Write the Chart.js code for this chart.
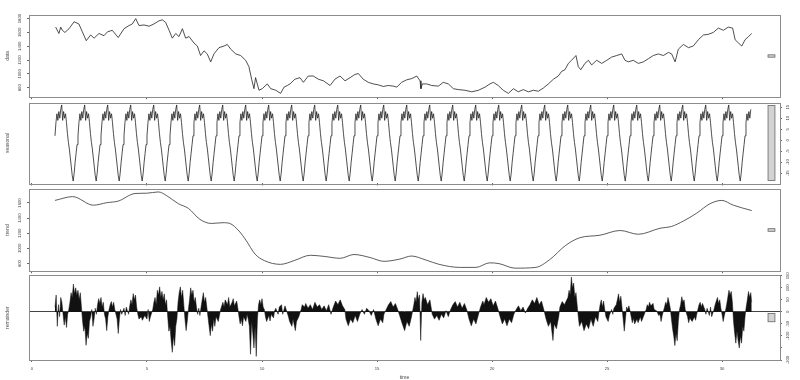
<!DOCTYPE html>
<html>
<head>
<meta charset="utf-8">
<script src="https://cdn.jsdelivr.net/npm/chart.js@4.4.1/dist/chart.umd.min.js"></script>
<style>
    html, body { margin: 0; padding: 0; background: #fff; overflow: hidden; }
    #wrap { position: relative; width: 800px; height: 380px; overflow: hidden; }
    #wrap canvas { position: absolute; left: 0; }
</style>
</head>
<body>
<div id="wrap">
    <canvas id="c-data"></canvas>
    <canvas id="c-seasonal"></canvas>
    <canvas id="c-trend"></canvas>
    <canvas id="c-remainder"></canvas>
</div>
<script>
// observed series (time in years)
const dataTime = [1.03,1.17,1.25,1.32,1.43,1.61,1.83,2.04,2.19,2.36,2.55,2.70,2.91,3.13,3.28,3.49,3.75,4.0,4.22,4.36,4.51,4.65,4.87,5.09,5.30,5.52,5.67,5.81,5.96,6.10,6.25,6.39,6.54,6.68,6.83,7.04,7.19,7.33,7.48,7.62,7.77,7.91,8.13,8.35,8.49,8.64,8.86,9.07,9.29,9.43,9.55,9.65,9.72,9.87,10.01,10.23,10.38,10.60,10.81,10.96,11.10,11.22,11.43,11.65,11.80,12.01,12.23,12.45,12.67,12.96,13.17,13.39,13.61,13.83,14.04,14.19,14.40,14.62,14.84,15.06,15.27,15.49,15.71,15.86,16.07,16.29,16.51,16.73,16.87,16.91,16.97,17.16,17.38,17.67,17.88,18.10,18.32,18.53,18.83,19.12,19.41,19.70,19.91,20.06,20.27,20.49,20.71,20.93,21.14,21.36,21.58,21.80,22.01,22.23,22.45,22.67,22.88,23.03,23.17,23.32,23.46,23.65,23.75,23.86,24.04,24.19,24.33,24.55,24.77,24.99,25.20,25.42,25.64,25.78,25.93,26.14,26.36,26.58,26.80,27.01,27.23,27.45,27.67,27.81,27.96,28.10,28.32,28.54,28.75,28.97,29.19,29.40,29.62,29.84,30.06,30.27,30.46,30.57,30.71,30.86,31.00,31.15,31.29];
const dataValue = [1677,1585,1677,1631,1600,1654,1755,1722,1608,1481,1563,1517,1585,1553,1608,1631,1526,1654,1700,1722,1800,1700,1708,1690,1722,1768,1782,1745,1631,1517,1585,1540,1654,1517,1540,1448,1403,1266,1334,1289,1174,1289,1380,1403,1426,1358,1289,1266,1197,1105,923,786,946,763,786,855,786,763,718,809,832,855,923,946,878,969,969,923,900,832,923,969,900,946,992,1005,923,878,855,841,818,832,823,809,878,914,932,969,900,786,855,855,832,823,878,855,786,773,763,741,763,809,855,878,832,763,718,786,741,773,741,763,749,795,855,923,969,1037,1060,1152,1197,1266,1105,1060,1152,1197,1129,1197,1152,1197,1243,1266,1289,1197,1174,1197,1152,1174,1220,1266,1289,1266,1311,1289,1174,1358,1426,1380,1403,1494,1563,1572,1600,1663,1631,1677,1663,1494,1448,1403,1494,1540,1585];

// one year of the periodic seasonal component, 24 steps per year
const seasonCycle = [2,8,12,9,13,10,14,16,9,13,10,12,8,3,-1,-4,-8,-12,-16,-18.5,-15,-10,-6,-2];
const seasonStart = 1.0;
const seasonEnd = 31.29;

const trendTime = [1.0,1.77,2.67,3.25,3.75,4.48,4.99,5.49,5.86,6.36,6.8,7.3,7.8,8.3,8.6,9.0,9.3,9.7,10.1,10.8,11.4,12.1,12.7,13.4,14.0,14.7,15.3,16.0,16.5,17.1,17.7,18.6,19.3,19.9,20.3,21.0,21.9,22.5,23.2,23.8,24.7,25.57,26.36,27.3,27.81,28.32,28.9,29.48,29.99,30.49,31.29];
const trendValue = [1634,1684,1571,1604,1625,1725,1729,1746,1696,1591,1529,1384,1330,1340,1330,1230,1110,925,840,790,840,910,895,870,920,880,830,860,900,850,790,750,750,810,800,740,750,850,1040,1140,1175,1237,1187,1266,1291,1362,1466,1591,1634,1571,1500];

const remTime = [
    1.00,1.05,1.10,1.15,1.20,1.25,1.30,1.35,1.40,1.45,1.50,1.55,1.60,1.65,1.70,1.75,1.80,1.85,1.90,1.95,2.00,2.05,2.10,2.15,
    2.20,2.25,2.30,2.35,2.40,2.45,2.50,2.55,2.60,2.65,2.70,2.75,2.80,2.85,2.90,2.95,3.00,3.05,3.10,3.15,3.20,3.25,3.30,3.35,
    3.40,3.45,3.50,3.55,3.60,3.65,3.70,3.75,3.80,3.85,3.90,4.00,4.05,4.10,4.15,4.20,4.25,4.30,4.35,4.40,4.45,4.50,4.55,
    4.60,4.65,4.75,4.80,4.90,5.00,5.05,5.10,5.15,5.25,5.30,5.35,5.40,5.45,5.50,5.55,5.60,5.65,5.70,5.75,5.80,5.85,
    5.90,5.95,6.00,6.05,6.10,6.15,6.20,6.25,6.30,6.35,6.40,6.45,6.50,6.55,6.60,6.65,6.70,6.75,6.80,6.85,6.90,6.95,7.00,7.05,7.10,7.15,
    7.20,7.25,7.30,7.35,7.40,7.45,7.50,7.55,7.60,7.65,7.70,7.75,7.80,7.85,7.90,7.95,8.00,8.10,8.20,
    8.30,8.35,8.40,8.50,8.55,8.60,8.70,8.75,8.80,8.90,8.95,9.00,9.05,9.10,9.15,9.20,9.30,9.35,9.40,
    9.45,9.50,9.55,9.60,9.65,9.70,9.75,9.80,9.85,9.90,9.95,10.00,10.05,10.10,10.15,10.20,10.30,10.35,10.40,10.50,10.55,
    10.60,10.70,10.75,10.85,10.90,11.00,11.05,11.15,11.20,11.30,11.35,11.45,11.50,11.60,
    11.70,11.75,11.85,11.90,12.00,12.10,12.20,12.30,12.40,12.50,12.60,12.70,12.80,12.90,13.00,13.10,13.20,13.30,13.40,13.50,13.60,
    13.65,13.75,13.85,13.95,14.05,14.15,14.25,14.35,14.45,14.55,14.65,14.75,14.85,14.95,15.05,15.15,15.25,15.30,
    15.40,15.50,15.60,15.70,15.80,15.90,16.00,16.10,16.20,16.30,16.40,16.50,16.60,16.65,16.70,16.75,16.80,16.85,16.90,16.95,17.00,17.05,17.10,17.20,17.30,
    17.40,17.50,17.60,17.70,17.80,17.90,18.00,18.10,18.20,18.30,18.40,18.50,18.60,18.70,18.80,18.90,19.00,19.10,19.20,19.30,19.40,
    19.50,19.60,19.65,19.75,19.85,19.95,20.05,20.15,20.25,20.35,20.45,20.55,20.65,20.75,20.85,20.95,21.05,21.15,21.25,21.35,21.45,21.55,
    21.65,21.75,21.85,21.95,22.05,22.15,22.25,22.35,22.45,22.55,22.65,22.70,22.80,22.90,22.95,23.05,23.15,23.25,
    23.30,23.35,23.40,23.45,23.50,23.55,23.60,23.65,23.70,23.75,23.80,23.90,24.00,24.10,24.20,24.30,24.40,24.50,24.60,24.65,
    24.70,24.75,24.80,24.85,24.90,24.95,25.05,25.10,25.20,25.25,25.30,25.40,25.45,25.50,25.55,25.60,25.65,25.70,25.75,25.80,
    25.85,25.90,25.95,26.00,26.05,26.10,26.15,26.20,26.30,26.35,26.45,26.50,26.60,26.70,26.75,26.80,26.85,26.90,27.00,27.05,
    27.15,27.25,27.30,27.35,27.40,27.50,27.55,27.60,27.65,27.70,27.75,27.80,27.85,27.90,27.95,28.00,28.05,28.10,
    28.15,28.20,28.25,28.30,28.35,28.40,28.50,28.55,28.60,28.70,28.80,28.85,28.90,28.95,29.00,29.05,29.10,29.15,29.25,
    29.30,29.35,29.45,29.50,29.55,29.65,29.70,29.75,29.80,29.85,29.90,29.95,30.00,30.05,30.10,30.15,
    30.20,30.25,30.30,30.35,30.40,30.45,30.50,30.55,30.60,30.65,30.70,30.75,30.80,30.85,30.90,30.95,31.00,
    31.05,31.10,31.15,31.20,31.25,31.29
];
const remValue = [
    20,70,-60,30,-20,60,40,-10,-55,-20,-65,-10,10,40,80,60,116,75,100,70,90,50,80,20,
    -40,-80,-60,-139,-90,-110,-40,-20,10,-60,-30,15,-10,30,55,35,60,20,40,-10,-30,-78,-20,10,
    30,43,20,40,10,-10,-30,-90,-30,10,-10,15,-15,20,5,-10,25,50,30,76,50,70,20,
    -10,-30,-20,-35,-15,-30,10,-40,-20,10,40,60,30,90,70,104,60,85,50,75,30,50,
    -20,-80,-60,-120,-168,-100,-140,-60,-30,40,80,104,60,90,30,-30,-78,-40,10,50,100,70,90,40,60,20,
    -10,15,-15,20,50,80,40,60,20,-20,-60,-99,-50,-80,-30,-60,-20,-40,10,
    40,20,50,30,60,20,40,55,25,45,15,-20,-50,-30,-58,-20,-40,-10,-30,
    -60,-176,-40,-90,-150,-60,-185,-30,30,50,30,55,20,10,-20,-40,-15,-38,-10,-25,5,
    15,-10,20,30,-10,25,10,-20,-40,-60,-30,-78,-40,-20,
    10,30,20,35,15,30,10,40,20,30,10,25,5,30,-10,20,45,30,50,25,10,
    -30,-58,-30,-45,-15,-40,-10,10,-10,15,5,-15,10,-30,-58,-30,-45,-10,
    10,30,43,20,35,10,-20,-50,-78,-40,-60,-20,30,60,40,84,50,70,-119,40,76,50,60,30,50,
    -10,-30,-15,-35,-10,-25,5,-20,10,30,43,20,40,15,35,10,-30,-58,-30,-50,-15,
    20,45,30,60,40,55,25,45,15,-20,-50,-30,-58,-30,-45,-10,10,25,5,20,-5,15,
    30,50,35,60,30,45,10,-30,-60,-40,-119,-50,-70,-20,20,43,30,50,
    60,90,70,145,100,120,60,80,30,-20,-60,-40,-78,-50,-70,-30,-60,-20,-40,0,
    30,50,20,45,10,-20,-40,-15,10,-10,15,30,50,75,40,65,20,-30,-80,-30,
    20,10,25,5,-20,-45,-25,-50,-30,-45,-20,-40,-15,10,30,20,40,25,35,10,
    5,-15,-10,-40,-15,20,40,30,60,40,15,-30,-70,-100,-140,-90,-120,-40,
    10,30,63,40,50,10,-20,-45,-25,-40,-20,-35,-10,10,30,40,20,35,10,
    -10,15,-15,20,-20,10,30,45,60,35,50,15,-10,-40,-15,5,
    30,60,90,70,85,40,-40,-90,-130,-80,-120,-150,-100,-130,-60,-80,-20,
    20,50,85,60,80,40
];

const xTicks = [0, 5, 10, 15, 20, 25, 30];
const dataTicks = [800, 1000, 1200, 1400, 1600, 1800];
const seasonTicks = [-15, -10, -5, 0, 5, 10, 15];
const trendTicks = [800, 1000, 1200, 1400, 1600];
const remTicks = [-200, -150, -100, -50, 0, 50, 100, 150];
const remHiddenLabels = [-150]; // no room for this label in the original

const rangeBarSize = 34; // the same data range is drawn in every panel

const X_MIN = -0.13, X_MAX = 32.52;
const PANEL_TOP = [12, 99, 186, 273];
const PANEL_H = 87;
const FONT = "'Liberation Sans', Arial, sans-serif";
const TICK_FONT = { family: FONT, size: 4.2 };
const TITLE_FONT = { family: FONT, size: 5 };

function pts(xs, ys) {
    return xs.map((x, i) => ({ x: x, y: ys[i] }));
}

function seasonalPoints() {
    const out = [];
    const n = seasonCycle.length;
    for (let k = 0; ; k++) {
        const t = seasonStart + k / n;
        if (t > seasonEnd + 1e-9) break;
        out.push({ x: t, y: seasonCycle[k % n] });
    }
    return out;
}

// box around each panel + grey range bar at the right
const panelPlugin = {
    id: "panelBox",
    afterDraw(chart) {
        const { ctx, chartArea: a, scales } = chart;
        const ys = scales.y;
        const mid = (ys.min + ys.max) / 2;
        const x0 = scales.x.getPixelForValue(32.0);
        const x1 = scales.x.getPixelForValue(32.3);
        const y0 = ys.getPixelForValue(mid + rangeBarSize / 2);
        const y1 = ys.getPixelForValue(mid - rangeBarSize / 2);
        ctx.save();
        ctx.fillStyle = "#d3d3d3";
        ctx.strokeStyle = "#666";
        ctx.lineWidth = 0.8;
        ctx.fillRect(x0, y0, x1 - x0, y1 - y0);
        ctx.strokeRect(x0, y0, x1 - x0, y1 - y0);
        ctx.strokeStyle = "#8c8c8c";
        ctx.lineWidth = 1;
        ctx.strokeRect(Math.round(a.left) + 0.5, Math.round(a.top) + 0.5,
            Math.round(a.right - a.left), Math.round(a.bottom - a.top));
        ctx.restore();
    }
};

function xAxis(showLabels) {
    return {
        type: "linear",
        min: X_MIN,
        max: X_MAX,
        afterBuildTicks: (s) => { s.ticks = xTicks.map((v) => ({ value: v })); },
        afterFit: (s) => { s.height = showLabels ? 22 : 3; },
        border: { display: false },
        grid: { drawOnChartArea: false, drawTicks: true, tickLength: 2, color: "#666" },
        ticks: { display: showLabels, font: TICK_FONT, color: "#444", padding: 4.5, maxRotation: 0, autoSkip: false },
        title: { display: showLabels, text: "time", font: TITLE_FONT, color: "#444", padding: { top: 0, bottom: 1 } }
    };
}

function yAxis(pos, min, max, tickList, pad, zeroLine) {
    return {
        type: "linear",
        position: pos,
        min: min,
        max: max,
        afterBuildTicks: (s) => { s.ticks = tickList.map((v) => ({ value: v })); },
        afterFit: (s) => { s.width = pos === "left" ? 29 : 20; },
        border: { display: false },
        grid: {
            drawOnChartArea: !!zeroLine,
            tickLength: 2,
            color: (c) => (zeroLine && c.tick && c.tick.value === 0) ? "#444" : "rgba(0,0,0,0)",
            tickColor: "#666"
        },
        ticks: {
            minRotation: 90, maxRotation: 90, crossAlign: "center", padding: pad, autoSkip: false,
            font: TICK_FONT, color: "#444",
            callback: (v) => (zeroLine && remHiddenLabels.includes(v)) ? "" : String(v)
        }
    };
}

function axisTitle(text) {
    return { display: true, text: text, font: TITLE_FONT, color: "#555", padding: { top: 5, bottom: 0 } };
}

function titleAxis(text) {
    return {
        type: "linear",
        position: "left",
        afterFit: (s) => { s.width = 29; },
        border: { display: false },
        grid: { display: false },
        ticks: { display: false },
        title: axisTitle(text)
    };
}

function makePanel(id, index, dataset, yScale, rightAxis, title, showX) {
    const canvas = document.getElementById(id);
    const padTop = 2;
    const bottomH = showX ? 22 : 3;
    canvas.width = 800;
    canvas.height = padTop + PANEL_H + bottomH;
    canvas.style.top = (PANEL_TOP[index] - padTop) + "px";

    const scales = { x: xAxis(showX), y: yScale };
    if (rightAxis) {
        scales.yl = titleAxis(title);
    } else {
        scales.y.title = axisTitle(title);
    }

    return new Chart(canvas.getContext("2d"), {
        type: "line",
        data: { datasets: [dataset] },
        options: {
            responsive: false,
            animation: false,
            devicePixelRatio: 1,
            layout: { padding: { top: padTop, left: 0, right: rightAxis ? 0 : 20, bottom: 0 } },
            plugins: { legend: { display: false }, tooltip: { enabled: false } },
            scales: scales
        },
        plugins: [panelPlugin]
    });
}

const lineStyle = { borderColor: "#222", borderWidth: 0.8, pointRadius: 0, tension: 0, fill: false };

makePanel("c-data", 0,
    Object.assign({ data: pts(dataTime, dataValue) }, lineStyle),
    yAxis("left", 663, 1855, dataTicks, 2.3, false), false, "data", false);

makePanel("c-seasonal", 1,
    Object.assign({ data: seasonalPoints() }, lineStyle),
    yAxis("right", -19.6, 17.1, seasonTicks, 3, false), true, "seasonal", false);

makePanel("c-trend", 2,
    Object.assign({ data: pts(trendTime, trendValue) }, lineStyle, { borderColor: "#333", tension: 0.4, cubicInterpolationMode: "monotone" }),
    yAxis("left", 700, 1787, trendTicks, 2.3, false), false, "trend", false);

makePanel("c-remainder", 3,
    Object.assign({ data: pts(remTime, remValue) }, lineStyle, { fill: "origin", backgroundColor: "#111", borderColor: "#111", borderWidth: 0.5 }),
    yAxis("right", -200, 152, remTicks, 1.8, true), true, "remainder", true);
</script>
</body>
</html>
